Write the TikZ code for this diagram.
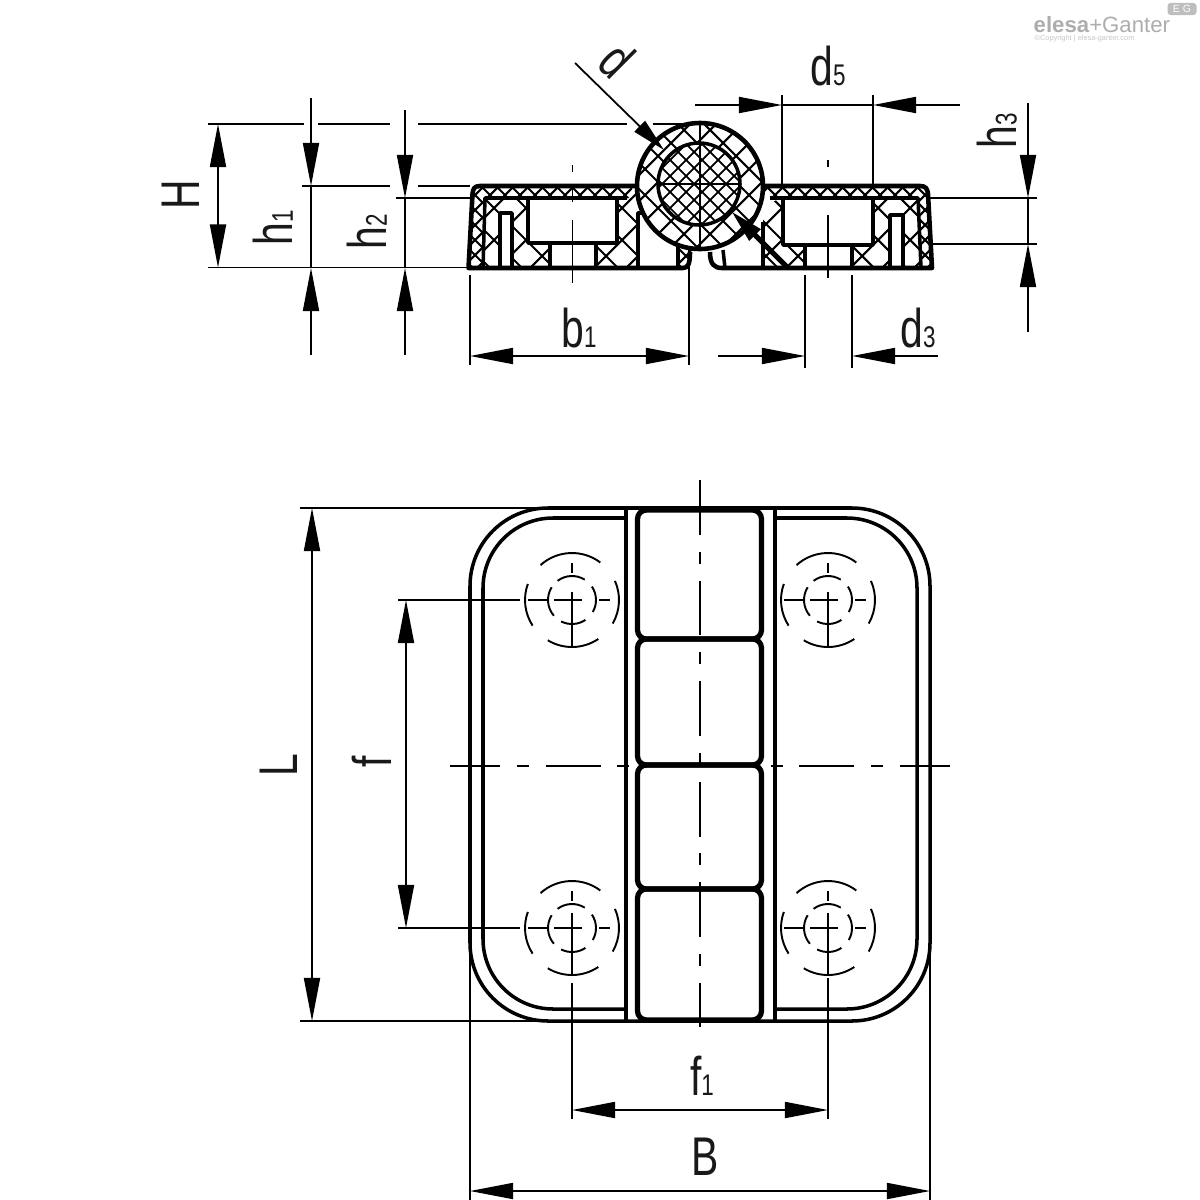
\documentclass[tikz,border=0pt]{standalone}
\usepackage{graphicx}
\usepackage{fontspec}
\setmainfont{Liberation Sans}
\usetikzlibrary{arrows.meta}

\definecolor{logogray}{gray}{.68}
\newcommand{\dimtext}[2]{\scalebox{.75}[1]{\fontsize{15.5}{16}\selectfont #1{\fontsize{8.5}{9}\selectfont #2}}}
\newcommand{\crosslines}[2][hatchline]{\foreach \k in {190,\the\numexpr190+#2\relax,...,1210} {\draw[#1] (\k,0) -- ++(400,400) (\k,0) -- ++(-400,400);}}
\newcommand{\holemark}[3]{
	\begin{scope}[shift={(#1,#2)}]
		\draw[markline] (-132:47) arc[start angle=-132,end angle=-53,radius=47];
		\draw[markline] (-24:47) arc[start angle=-24,end angle=30,radius=47];
		\draw[markline] (56:47) arc[start angle=56,end angle=121,radius=47];
		\draw[markline] (147:47) arc[start angle=147,end angle=200,radius=47];
		\draw[markline] (-127:24) arc[start angle=-127,end angle=-58,radius=24];
		\draw[markline] (-34:24) arc[start angle=-34,end angle=30,radius=24];
		\draw[markline] (56:24) arc[start angle=56,end angle=117,radius=24];
		\draw[markline] (139:24) arc[start angle=139,end angle=212,radius=24];
		\draw[markline] (-44,0) -- (-24,0) (-18,0) -- (10,0) (27,0) -- (38,0);
		\draw[markline] (0,-37) -- (0,-27) (0,#3) -- (0,47);
	\end{scope}
}

\tikzset{
	outline/.style={line width=1pt, line join=round},
	bodyline/.style={line width=1.3pt, line join=round},
	heavyline/.style={line width=1.5pt, line join=round},
	dimline/.style={line width=.5pt},
	markline/.style={line width=.55pt},
	hatchline/.style={line width=.6pt},
	finehatch/.style={line width=.5pt},
	axisline/.style={line width=.5pt, dash pattern=on 15.6pt off 4.8pt on 3.4pt off 4.8pt},
	dimtip/.style={-{Triangle[length=4.3mm,width=1.6mm]}},
	shorttip/.style={-{Triangle[length=3.4mm,width=1.5mm]}},
	dimlabel/.style={inner sep=0pt, text=black!90},
	uplabel/.style={dimlabel, rotate=90},
}

\begin{document}
\begin{tikzpicture}[x=0.01cm,y=-0.01cm]
	\useasboundingbox (0,0) rectangle (1200,1200);

	\begin{scope}
		\clip (468.5,268) -- (473,186) -- (632,186) -- (632,198) -- (485,198) -- (483,268) -- cycle;
		\crosslines{15}
	\end{scope}
	\begin{scope}
		\clip (485,198) -- (627,198) -- (640,186) -- (660,215) -- (638,215) -- (638,268) -- (483,268) -- cycle;
		\crosslines{32}
	\end{scope}
	\begin{scope}
		\clip (678,240) -- (692,250) -- (683,268) -- (678,268) -- cycle;
		\crosslines{16}
	\end{scope}
	\begin{scope}
		\clip (763,186) -- (923,186) -- (928,192) -- (932,268) -- (921,268) -- (918,198) -- (763,198) -- cycle;
		\crosslines{15}
	\end{scope}
	\begin{scope}
		\clip (763,205) -- (783,198) -- (918,198) -- (921,268) -- (763,268) -- cycle;
		\crosslines{32}
	\end{scope}

	\draw[outline, fill=white] (528,198) rectangle (617,243);
	\draw[outline, fill=white] (550,243) rectangle (596,268);
	\draw[outline, fill=white] (500,268) -- (500,213) -- (512,213) -- (512,268) -- cycle;
	\draw[outline, fill=white] (783,198) rectangle (873,245);
	\draw[outline, fill=white] (805,245) rectangle (852,268);
	\draw[outline, fill=white] (890,268) -- (890,215) -- (903,215) -- (903,268) -- cycle;

	\draw[bodyline] (642,186) -- (480,186) .. controls (474,186) and (473,189) .. (472.5,194) -- (468.5,268) -- (683,268) .. controls (688,268) and (690,264) .. (690,252);
	\draw[bodyline] (710,252) .. controls (710,264) and (714,268) .. (722,268) -- (932,268) -- (928,194) .. controls (927.5,189) and (926,186) .. (920,186) -- (758,186);
	\draw[outline] (627,198) -- (485,198) -- (483,268);
	\draw[outline] (770,198) -- (918,198) -- (921,268);
	\draw[outline] (638,268) -- (638,213) -- (648,213);
	\draw[outline] (678,243) -- (678,268);
	\draw[outline] (723,250) -- (725,268);
	\draw[outline] (763,222) -- (763,268);

	\fill[white] (700,186) circle[radius=63];
	\begin{scope}
		\clip (700,186) circle[radius=63];
		\crosslines[hatchline]{26}
	\end{scope}
	\fill[white] (699,184) circle[radius=41];
	\begin{scope}
		\clip (699,184) circle[radius=41];
		\crosslines[finehatch]{16}
	\end{scope}
	\draw[bodyline] (700,186) circle[radius=63];
	\draw[outline] (699,184) circle[radius=41];
	\draw[markline] (700,123) -- (700,249);
	\draw[markline] (658,184) -- (740,184);

	\draw[dimline] (572.5,165) -- (572.5,172);
	\draw[dimline] (572.5,188) -- (572.5,202);
	\draw[dimline] (572.5,220) -- (572.5,283);
	\draw[dimline] (828,160) -- (828,167);
	\draw[dimline] (828,215) -- (828,278);

	\draw[dimline] (208,124) -- (304,124);
	\draw[dimline] (318,124) -- (390,124);
	\draw[dimline] (418,124) -- (627,124);
	\draw[dimline] (653,124) -- (685,124);
	\draw[dimline] (302,186) -- (390,186);
	\draw[dimline] (418,186) -- (470,186);
	\draw[dimline] (396,198) -- (470,198);
	\draw[dimline] (208,267.5) -- (470,267.5);
	\draw[dimline] (930,198) -- (1037,198);
	\draw[dimline] (932,244) -- (1037,244);

	\draw[dimline, dimtip] (218,196) -- (218,124);
	\draw[dimline, dimtip] (218,196) -- (218,267.5);
	\draw[dimline, dimtip] (311,98) -- (311,186);
	\draw[dimline] (311,186) -- (311,268);
	\draw[dimline, dimtip] (311,355) -- (311,268);
	\draw[dimline, dimtip] (405,110) -- (405,198);
	\draw[dimline] (405,198) -- (405,268);
	\draw[dimline, dimtip] (405,355) -- (405,268);
	\draw[dimline, dimtip] (1028,103) -- (1028,198);
	\draw[dimline] (1028,198) -- (1028,244);
	\draw[dimline, dimtip] (1028,332) -- (1028,244);

	\draw[dimline] (782,95) -- (782,186);
	\draw[dimline] (873,95) -- (873,186);
	\draw[dimline, dimtip] (695,105) -- (782,105);
	\draw[dimline] (782,105) -- (873,105);
	\draw[dimline, dimtip] (960,105) -- (873,105);

	\draw[dimline] (470,275) -- (470,365);
	\draw[dimline] (689,250) -- (689,365);
	\draw[dimline, dimtip] (580,356) -- (470,356);
	\draw[dimline, dimtip] (580,356) -- (689,356);
	\draw[dimline] (805,275) -- (805,368);
	\draw[dimline] (852,275) -- (852,368);
	\draw[dimline, dimtip] (718,356) -- (805,356);
	\draw[dimline, dimtip] (938,356) -- (852,356);

	\draw[dimline, shorttip] (575,63) -- (664,150);
	\draw[heavyline, shorttip] (787,267) -- (731,211);

	\draw[outline, rounded corners=7.8mm] (470,508) rectangle (930,1021);
	\draw[outline, rounded corners=7mm] (626,518) -- (483,518) -- (483,1009) -- (626,1009);
	\draw[outline, rounded corners=7mm] (775,518) -- (917,518) -- (917,1009) -- (775,1009);
	\draw[outline] (626,510) -- (626,1021);
	\draw[outline] (775,510) -- (775,1021);

	\foreach \ytop/\ybot in {510/639,639/765,765/889,889/1020} {
		\draw[heavyline, rounded corners=.9mm] (637.5,\ytop) rectangle (761.5,\ybot);
	}

	\draw[axisline] (700,480) -- (700,1027);
	\draw[axisline, dash phase=1.4pt] (450,766) -- (632,766);
	\draw[axisline, dash phase=1.4pt] (950,766) -- (768,766);

	\holemark{572}{600}{-8}
	\holemark{828}{600}{-8}
	\holemark{572}{928}{-15}
	\holemark{828}{928}{-15}

	\draw[dimline] (300,508) -- (547,508);
	\draw[dimline] (300,1021) -- (540,1021);
	\draw[dimline, dimtip] (312,765) -- (312,508);
	\draw[dimline, dimtip] (312,765) -- (312,1021);
	\draw[dimline] (398,600) -- (520,600);
	\draw[dimline] (398,928) -- (520,928);
	\draw[dimline, dimtip] (406,764) -- (406,600);
	\draw[dimline, dimtip] (406,764) -- (406,928);
	\draw[dimline] (572,983) -- (572,1119);
	\draw[dimline] (828,978) -- (828,1119);
	\draw[dimline, dimtip] (700,1110) -- (572,1110);
	\draw[dimline, dimtip] (700,1110) -- (828,1110);
	\draw[dimline] (470,950) -- (470,1200);
	\draw[dimline] (930,950) -- (930,1200);
	\draw[dimline, dimtip] (700,1191) -- (470,1191);
	\draw[dimline, dimtip] (700,1191) -- (930,1191);

	\node[uplabel] (labelH) at (181,195) {\dimtext{H}{}};
	\node[uplabel] (labelhone) at (273,228) {\dimtext{h}{1}};
	\node[uplabel] (labelhtwo) at (367,232) {\dimtext{h}{2}};
	\node[uplabel] (labelhthree) at (997,131) {\dimtext{h}{3}};
	\node[dimlabel] (labeldthree) at (918,328) {\dimtext{d}{3}};
	\node[dimlabel] (labeldfive) at (828,66) {\dimtext{d}{5}};
	\node[dimlabel] (labelbone) at (579,328) {\dimtext{b}{1}};
	\node[dimlabel] (labelfone) at (702,1076) {\dimtext{f}{1}};
	\node[dimlabel] (labelB) at (705,1157) {\dimtext{B}{}};
	\node[uplabel] (labelL) at (279,765) {\dimtext{L}{}};
	\node[uplabel] (labelf) at (372,762) {\dimtext{f}{}};
	\node[dimlabel, rotate=-45] (labeld) at (617,60) {\dimtext{d}{}};

	\node[inner sep=0pt, anchor=base west, text=logogray] (logoname) at (1033,32) {\fontsize{6.3}{7}\selectfont\textbf{elesa}+Ganter};
	\node[inner sep=0pt, anchor=base west, text=logogray!70] (logocopy) at (1034,40) {\fontsize{2.1}{3}\selectfont ©Copyright | elesa-ganter.com};
	\node[inner sep=0pt, minimum width=.29cm, minimum height=.12cm, fill=logogray!80, rounded corners=.3mm, text=white] (logobox) at (1182,9) {\fontsize{3}{3}\selectfont E G};
\end{tikzpicture}
\end{document}
